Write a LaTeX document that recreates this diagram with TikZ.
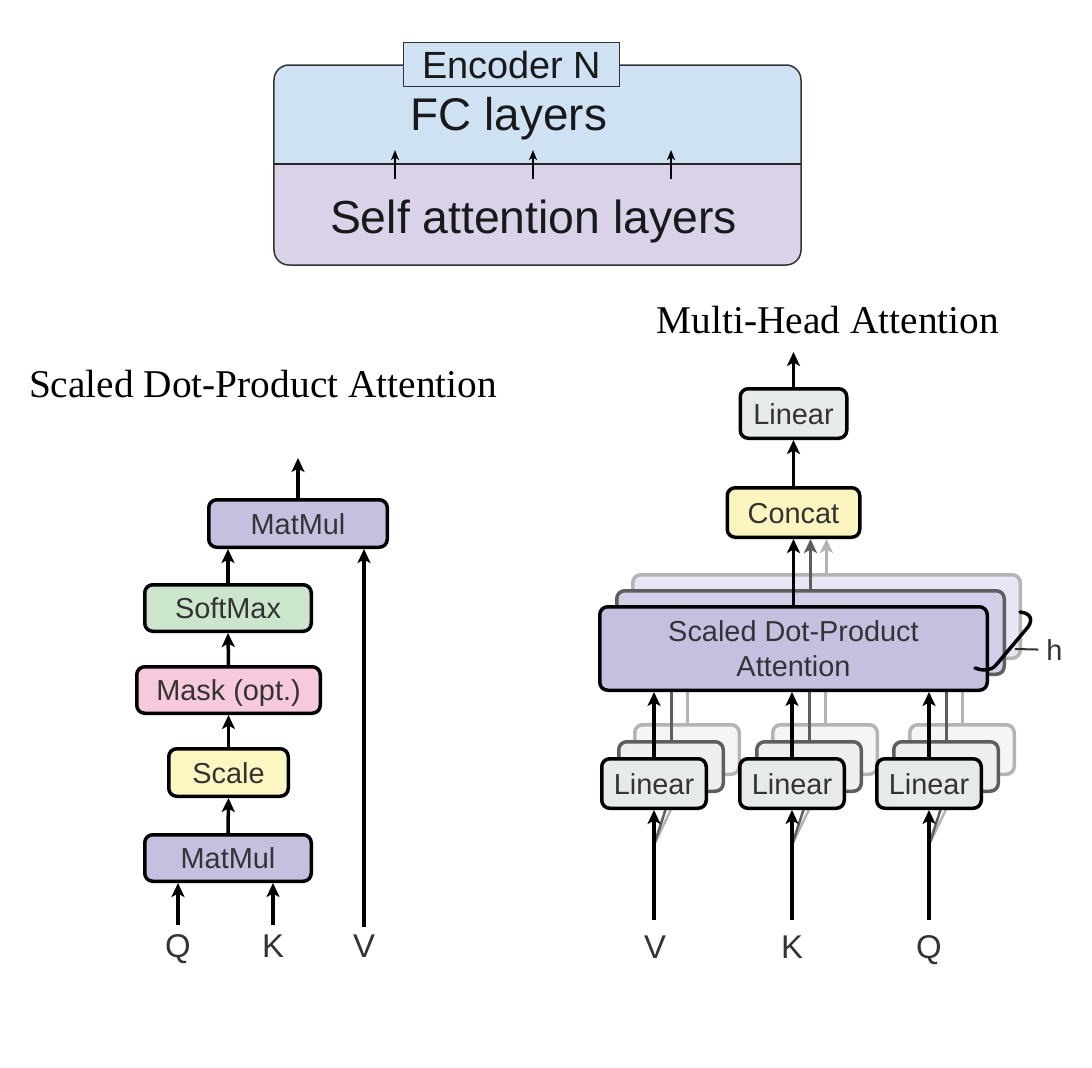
\documentclass[tikz,border=0pt]{standalone}
\usepackage{fontspec}
\setmainfont{Liberation Serif}
\setsansfont{Liberation Sans}
\usetikzlibrary{arrows.meta}
\definecolor{topblue}{HTML}{CFE2F3}
\definecolor{toplav}{HTML}{D9D2E9}
\definecolor{encline}{HTML}{333333}
\definecolor{txt}{HTML}{333333}
\definecolor{mmfill}{HTML}{C5BFE0}
\definecolor{softfill}{HTML}{CCE6CC}
\definecolor{maskfill}{HTML}{F6C9DD}
\definecolor{scalefill}{HTML}{FCF6C0}
\definecolor{linfill}{HTML}{E6EBE9}
\definecolor{concatfill}{HTML}{FCF5C0}
\definecolor{sdpatwo}{HTML}{D3CEEA}
\definecolor{sdpathree}{HTML}{E8E6F4}
\definecolor{lintwo}{HTML}{EDF0EF}
\definecolor{linthree}{HTML}{F4F6F5}
\definecolor{linetwo}{HTML}{5E5E5E}
\definecolor{linethree}{HTML}{B4B4B4}
\begin{document}
\begin{tikzpicture}[x=1bp,y=-1bp,
  blk/.style={draw=black, line width=3.5bp, rounded corners=8bp,
    font=\sffamily\fontsize{29}{34}\selectfont, text=txt, inner sep=0pt,
    text height=21bp, text depth=0bp},
  ghosttwo/.style={draw=linetwo, line width=3.5bp, rounded corners=8bp, inner sep=0pt},
  ghostthree/.style={draw=linethree, line width=3.5bp, rounded corners=8bp, inner sep=0pt},
  arr/.style={line width=3.5bp, -{Stealth[length=14bp,width=13bp,inset=3.5bp]}},
  thinarr/.style={line width=1.6bp, -{Stealth[length=10bp,width=8bp,inset=2.5bp]}},
  lbl/.style={anchor=base, font=\sffamily\fontsize{33}{38}\selectfont, text=txt, inner sep=0pt},
  ttl/.style={anchor=base, font=\fontsize{39.5}{44}\selectfont, inner sep=0pt},
]
\useasboundingbox (0,0) rectangle (1092,1068);
\fill[white] (0,0) rectangle (1092,1068);

% ---------------- Encoder box ----------------
\begin{scope}
  \clip[rounded corners=15bp] (274,65) rectangle (801,265);
  \fill[topblue] (274,65) rectangle (801,164);
  \fill[toplav] (274,164) rectangle (801,265);
\end{scope}
\node[draw=encline, line width=1.5bp, rounded corners=15bp, minimum width=527bp,
      minimum height=200bp, inner sep=0pt] (enc) at (537.5,165) {};
\coordinate (divL) at (274,164);
\coordinate (divR) at (801,164);
\draw[line width=1.5bp, draw=black!85] (divL) -- (divR);
\node[draw=encline, fill=topblue, line width=1.5bp, minimum width=216bp,
      minimum height=44bp, inner sep=0pt, text height=27bp, text depth=0bp,
      font=\sffamily\fontsize{38}{42}\selectfont, text=black!90] (tab) at (511.5,64.5) {Encoder N};
\node[anchor=base, inner sep=0pt, font=\sffamily\fontsize{46}{50}\selectfont, text=black!90] (fc) at (509,130) {FC layers};
\node[anchor=base, inner sep=0pt, font=\sffamily\fontsize{46.5}{50}\selectfont, text=black!90] (sa) at (533.5,233) {Self attention layers};
\coordinate (sa1) at (395,179); \coordinate (fc1) at (395,150);
\coordinate (sa2) at (533,179); \coordinate (fc2) at (533,150);
\coordinate (sa3) at (671,179); \coordinate (fc3) at (671,150);
\draw[thinarr] (sa1) -- (fc1);
\draw[thinarr] (sa2) -- (fc2);
\draw[thinarr] (sa3) -- (fc3);

% ---------------- Titles ----------------
\node[ttl] (t1) at (263,397) {Scaled Dot-Product Attention};
\node[ttl] (t2) at (828,333) {Multi-Head Attention};

% ---------------- Scaled dot-product attention ----------------
\node[blk, fill=mmfill, minimum width=178.5bp, minimum height=47.5bp] (mmtop) at (298,523.5) {MatMul};
\node[blk, fill=softfill, minimum width=166.5bp, minimum height=46.5bp] (soft) at (228,608) {SoftMax};
\node[blk, fill=maskfill, minimum width=183.5bp, minimum height=46.5bp] (mask) at (228.5,690) {Mask (opt.)};
\node[blk, fill=scalefill, minimum width=119.5bp, minimum height=47.5bp] (scale) at (228.5,772.5) {Scale};
\node[blk, fill=mmfill, minimum width=166.5bp, minimum height=46.5bp] (mmbot) at (228,858) {MatMul};

\node[lbl] (lq) at (178,957) {Q};
\node[lbl] (lk) at (273,957) {K};
\node[lbl] (lv) at (364,957) {V};
\coordinate (qin) at (178,925);
\coordinate (kin) at (273,925);
\coordinate (vin) at (364,927);
\coordinate (outl) at (298,458);

\draw[arr] (qin) -- (qin |- mmbot.south);
\draw[arr] (kin) -- (kin |- mmbot.south);
\draw[arr] (vin) -- (vin |- mmtop.south);
\draw[arr] (mmbot.north) -- (scale.south);
\draw[arr] (scale.north) -- (mask.south);
\draw[arr] (mask.north) -- (soft.south);
\draw[arr] (soft.north) -- (soft.north |- mmtop.south);
\draw[arr] (mmtop.north) -- (outl);

% ---------------- Multi-head attention ----------------
% back layers of SDPA
\node[ghostthree, fill=sdpathree, minimum width=387.5bp, minimum height=83.5bp] (sdpc) at (826.5,616.5) {};
\node[ghosttwo, fill=sdpatwo, minimum width=387.5bp, minimum height=83.5bp] (sdpb) at (810.5,632.5) {};

% back layers of linears
\node[ghostthree, fill=linthree, minimum width=104.5bp, minimum height=49.5bp] (vlc) at (687,749.5) {};
\node[ghosttwo, fill=lintwo, minimum width=104.5bp, minimum height=49.5bp] (vlb) at (671,766.5) {};
\node[ghostthree, fill=linthree, minimum width=104.5bp, minimum height=49.5bp] (klc) at (825,749.5) {};
\node[ghosttwo, fill=lintwo, minimum width=104.5bp, minimum height=49.5bp] (klb) at (809,766.5) {};
\node[ghostthree, fill=linthree, minimum width=104.5bp, minimum height=49.5bp] (qlc) at (962,749.5) {};
\node[ghosttwo, fill=lintwo, minimum width=104.5bp, minimum height=49.5bp] (qlb) at (946,766.5) {};

% gray connectors behind the front boxes
\draw[line width=3bp, draw=linethree] (vlc.north) -- (vlc.north |- sdpb.south);
\draw[line width=3bp, draw=linetwo] (vlb.north) -- (vlb.north |- sdpb.south);
\draw[line width=3bp, draw=linethree] (klc.north) -- (klc.north |- sdpb.south);
\draw[line width=3bp, draw=linetwo] (klb.north) -- (klb.north |- sdpb.south);
\draw[line width=3bp, draw=linethree] (qlc.north) -- (qlc.north |- sdpb.south);
\draw[line width=3bp, draw=linetwo] (qlb.north) -- (qlb.north |- sdpb.south);

\coordinate (vsp) at (654,845);
\coordinate (ksp) at (792,845);
\coordinate (qsp) at (929,845);
\draw[line width=2.5bp, draw=linethree] (vsp) -- (vlc.south);
\draw[line width=2.5bp, draw=linetwo] (vsp) -- (vlb.south);
\draw[line width=2.5bp, draw=linethree] (ksp) -- (klc.south);
\draw[line width=2.5bp, draw=linetwo] (ksp) -- (klb.south);
\draw[line width=2.5bp, draw=linethree] (qsp) -- (qlc.south);
\draw[line width=2.5bp, draw=linetwo] (qsp) -- (qlb.south);

% front boxes
\node[blk, fill=mmfill, minimum width=387.5bp, minimum height=83.5bp, align=center,
      text height=, text depth=, font=\sffamily\fontsize{29}{35}\selectfont] (sdpa) at (793.5,648.5) {Scaled Dot-Product\\Attention};
\node[blk, fill=linfill, minimum width=104.5bp, minimum height=49.5bp] (vl) at (654,783.5) {Linear};
\node[blk, fill=linfill, minimum width=104.5bp, minimum height=49.5bp] (kl) at (792,783.5) {Linear};
\node[blk, fill=linfill, minimum width=104.5bp, minimum height=49.5bp] (ql) at (929,783.5) {Linear};
\node[blk, fill=concatfill, minimum width=132.5bp, minimum height=49.5bp] (concat) at (793.5,512.5) {Concat};
\node[blk, fill=linfill, minimum width=106.5bp, minimum height=49.5bp] (lout) at (793.5,413.5) {Linear};

% connectors
\draw[arr, draw=linethree] (sdpc.north) -- (sdpc.north |- concat.south);
\draw[arr, draw=linetwo] (sdpb.north) -- (sdpb.north |- concat.south);
\draw[arr] (sdpa.north) -- (concat.south);
\draw[arr] (concat.north) -- (lout.south);
\coordinate (outr) at (793.5,352);
\draw[arr] (lout.north) -- (outr);

\draw[arr] (vl.north) -- (vl.north |- sdpa.south);
\draw[arr] (kl.north) -- (kl.north |- sdpa.south);
\draw[arr] (ql.north) -- (ql.north |- sdpa.south);

\node[lbl] (rv) at (655,958) {V};
\node[lbl] (rk) at (792,958) {K};
\node[lbl] (rq) at (929,958) {Q};
\coordinate (rvin) at (654,920);
\coordinate (rkin) at (792,920);
\coordinate (rqin) at (929,920);
\draw[arr] (rvin) -- (vl.south);
\draw[arr] (rkin) -- (kl.south);
\draw[arr] (rqin) -- (ql.south);

% h brace
\draw[line width=3.5bp, line cap=round] (1020,612) .. controls (1031,613) and (1033,620) .. (1028,627)
   -- (996,665) .. controls (991,671) and (983,671) .. (975,668);
\node[anchor=base, inner sep=0pt, font=\sffamily\fontsize{29}{34}\selectfont, text=txt] (h) at (1054.5,660) {h};
\coordinate (hb) at (1015,649);
\draw[line width=2bp, draw=txt] (hb) -- ([xshift=-8bp]h.west);
\end{tikzpicture}
\end{document}
